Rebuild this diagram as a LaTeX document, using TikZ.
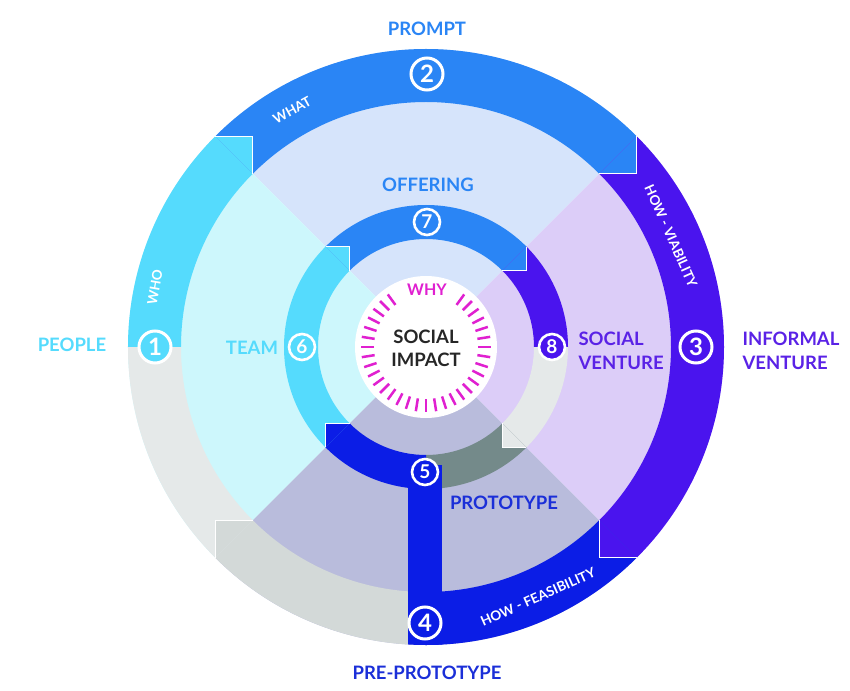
\documentclass[tikz,border=0pt]{standalone}
\usepackage{fontspec}
\setmainfont{Lato}
\usepackage{tikz}

\definecolor{cyanband}{HTML}{55DBFD}
\definecolor{blueband}{HTML}{2A85F5}
\definecolor{purpleband}{HTML}{4A14EE}
\definecolor{navyband}{HTML}{0B1DE6}
\definecolor{lightgrey}{HTML}{E5E9E9}
\definecolor{midgrey}{HTML}{D3D9D8}
\definecolor{darkgrey}{HTML}{748A8A}
\definecolor{topsec}{HTML}{D6E4FB}
\definecolor{leftsec}{HTML}{CDF7FC}
\definecolor{rightsec}{HTML}{DCCDF8}
\definecolor{botsec}{HTML}{B9BCDC}
\definecolor{whytick}{HTML}{E020D0}
\definecolor{ventext}{HTML}{5A22E6}
\definecolor{prototext}{HTML}{1B2FD8}

\begin{document}
\begin{tikzpicture}[x=1pt,y=1pt,
    bignum/.style={circle, draw=white, line width=3pt, minimum size=32pt, inner sep=0pt,
      text=white, font=\bfseries\fontsize{24}{24}\selectfont},
    smallnum/.style={circle, draw=white, line width=2.6pt, minimum size=26pt, inner sep=0pt,
      text=white, font=\bfseries\fontsize{19}{19}\selectfont},
    ringtext/.style={text=white, font=\bfseries\fontsize{13.5}{13.5}\selectfont},
    stagename/.style={font=\bfseries\fontsize{18.5}{23.5}\selectfont},
    joint/.style={white, line width=1.3pt}]
    \useasboundingbox (-426,-343) rectangle (424,347);

    % quarter sectors
    \fill[topsec] (0,0) -- (45:298) arc[start angle=45, end angle=135, radius=298] -- cycle;
    \fill[leftsec] (0,0) -- (135:298) arc[start angle=135, end angle=225, radius=298] -- cycle;
    \fill[botsec] (0,0) -- (225:298) arc[start angle=225, end angle=315, radius=298] -- cycle;
    \fill[rightsec] (0,0) -- (-45:298) arc[start angle=-45, end angle=45, radius=298] -- cycle;

    % outer ring
    \foreach \s/\e/\c in {180/135/cyanband, 135/45/blueband, 45/-45/purpleband,
        -45/-90/navyband, -90/-135/midgrey, -135/-180/lightgrey}
        \fill[\c] (\s:298) arc[start angle=\s, end angle=\e, radius=298]
            -- (\e:245) arc[start angle=\e, end angle=\s, radius=245] -- cycle;
    \fill[cyanband] (-210.7,210.7) -- (-173.2,210.7) -- (-173.2,173.2) -- cycle;
    \fill[blueband] (210.7,210.7) -- (210.7,173.2) -- (173.2,173.2) -- cycle;
    \fill[purpleband] (210.7,-210.7) -- (173.2,-210.7) -- (173.2,-173.2) -- cycle;
    \fill[midgrey] (-210.7,-210.7) -- (-210.7,-173.2) -- (-173.2,-173.2) -- cycle;
    \draw[joint] (-210.7,210.7) -- (-173.2,210.7) -- (-173.2,173.2);
    \draw[joint] (210.7,210.7) -- (210.7,173.2) -- (173.2,173.2);
    \draw[joint] (173.2,-173.2) -- (173.2,-210.7) -- (210.7,-210.7);
    \draw[joint] (-210.7,-210.7) -- (-210.7,-173.2) -- (-173.2,-173.2);

    % inner ring
    \foreach \s/\e/\c in {225/135/cyanband, 135/45/blueband, 45/0/purpleband,
        0/-45/lightgrey, -45/-90/darkgrey, -90/-135/navyband}
        \fill[\c] (\s:142) arc[start angle=\s, end angle=\e, radius=142]
            -- (\e:108) arc[start angle=\e, end angle=\s, radius=108] -- cycle;
    \fill[cyanband] (-100.4,100.4) -- (-76.4,100.4) -- (-76.4,76.4) -- cycle;
    \fill[blueband] (100.4,100.4) -- (100.4,76.4) -- (76.4,76.4) -- cycle;
    \fill[lightgrey] (100.4,-100.4) -- (76.4,-100.4) -- (76.4,-76.4) -- cycle;
    \fill[navyband] (-100.4,-100.4) -- (-100.4,-76.4) -- (-76.4,-76.4) -- cycle;
    \draw[joint] (-100.4,100.4) -- (-76.4,100.4) -- (-76.4,76.4);
    \draw[joint] (100.4,100.4) -- (100.4,76.4) -- (76.4,76.4);
    \draw[joint] (76.4,-76.4) -- (76.4,-100.4) -- (100.4,-100.4);
    \draw[joint] (-100.4,-100.4) -- (-100.4,-76.4) -- (-76.4,-76.4);

    % bar from 5 down to 4
    \begin{scope}
        \clip (0,0) circle (298);
        \fill[navyband] (-18,-118) rectangle (16,-300);
    \end{scope}

    % centre
    \fill[white] (0,0) circle (71);
    \foreach \a in {-234,-225,...,54}
        \draw[whytick, line width=2.5pt] (\a:52) -- (\a:65);
    \node[text=whytick, font=\bfseries\fontsize{16}{16}\selectfont] (why) at (1,57) {WHY};
    \node[align=center, text=black!85, font=\bfseries\fontsize{18.5}{23}\selectfont] (impact) at (0,-1) {SOCIAL\\IMPACT};

    % numbered circles
    \node[bignum, fill=cyanband] (n1) at (180:271) {1};
    \node[bignum, fill=blueband] (n2) at (1,273) {2};
    \node[bignum, fill=purpleband] (n3) at (0:270) {3};
    \node[bignum, fill=navyband] (n4) at (-1,-276) {4};
    \node[smallnum, fill=navyband] (n5) at (-1,-125) {5};
    \node[smallnum, fill=cyanband] (n6) at (180:124) {6};
    \node[smallnum, fill=blueband] (n7) at (1,125) {7};
    \node[smallnum, fill=purpleband] (n8) at (0:126) {8};

    % words on the ring
    \node[ringtext, rotate=29] (what) at (-134,237) {WHAT};
    \node[ringtext, rotate=80] (who) at (-271,60) {WHO};
    \node[ringtext, rotate=-66] (viab) at (245,111) {HOW - VIABILITY};
    \node[ringtext, rotate=24] (feas) at (112,-250) {HOW - FEASIBILITY};

    % stage names
    \node[stagename, text=blueband] (prompt) at (1,318) {PROMPT};
    \node[stagename, text=cyanband] (people) at (-354,2) {PEOPLE};
    \node[stagename, text=ventext, align=left, anchor=west] (informal) at (313,-4) {INFORMAL\\VENTURE};
    \node[stagename, text=prototext] (preproto) at (1,-326) {PRE-PROTOTYPE};
    \node[stagename, text=blueband] (offering) at (2,162) {OFFERING};
    \node[stagename, text=cyanband] (team) at (-174,-1) {TEAM};
    \node[stagename, text=ventext, align=left, anchor=west] (socialv) at (149,-4) {SOCIAL\\VENTURE};
    \node[stagename, text=prototext] (proto) at (78,-156) {PROTOTYPE};
\end{tikzpicture}
\end{document}
